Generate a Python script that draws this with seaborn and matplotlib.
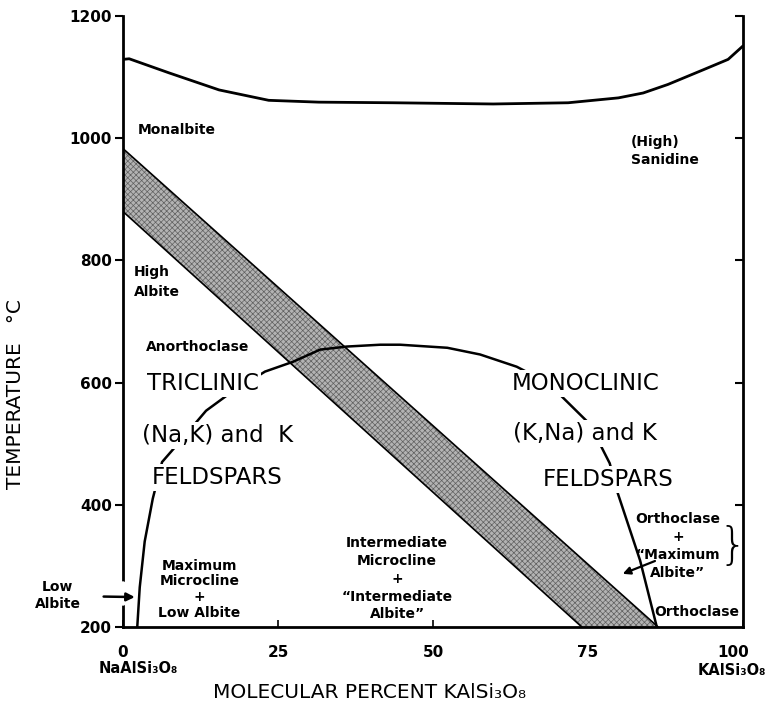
import matplotlib.pyplot as plt
import matplotlib.transforms as mtransforms
import seaborn as sns
import pandas as pd

# upper curve (melting region)
top_x = [0, 1, 7.4, 15.5, 23.5, 31.6, 43.6, 59.7, 71.8, 79.9, 83.9, 87.9, 93.6, 97.6, 100]
top_t = [1129, 1130, 1107, 1079, 1062, 1059, 1058, 1056, 1058, 1066, 1074, 1088, 1112, 1129, 1151]

# solvus dome
solvus_x = [2.3, 2.7, 3.5, 4.8, 6.3, 8.7, 13.4, 16.9, 22.9, 27.4, 31.8, 36.1, 41.5, 44.7,
            52.3, 57.6, 63.5, 67.5, 70.5, 75.0, 76.6, 78.5, 79.8, 83.4, 86.1]
solvus_t = [200, 265, 340, 410, 470, 498, 554, 580, 618, 634, 654, 659, 662, 662,
            657, 646, 626, 605, 580, 535, 506, 468, 419, 309, 200]

# shaded band (two straight edges)
band_hi_x = [0, 86.3]
band_hi_t = [983, 200]
band_lo_x = [0, 74.0]
band_lo_t = [880, 200]

x_ticks = [0, 25, 50, 75, 100]
y_ticks = [200, 400, 600, 800, 1000, 1200]
right_ticks = [400, 600, 800, 1000, 1200]

sns.set_theme(style='ticks')
plt.rcParams['font.family'] = ['DejaVu Sans']
plt.rcParams['hatch.linewidth'] = 0.5
for k in ['text.color', 'xtick.color', 'ytick.color', 'axes.labelcolor', 'axes.edgecolor']:
    plt.rcParams[k] = 'black'

fig = plt.figure(figsize=(7.69, 7.1), dpi=100)
ax = fig.add_axes([123 / 769, 1 - 627 / 710, 620 / 769, 611 / 710])

# band
ax.fill(band_hi_x + band_lo_x[::-1], band_hi_t + band_lo_t[::-1],
        facecolor='#b3b3b3', hatch='xxxxxx', edgecolor='#606060', linewidth=0, zorder=1)
for bx, bt in [(band_hi_x, band_hi_t), (band_lo_x, band_lo_t)]:
    sns.lineplot(x=bx, y=bt, ax=ax, color='black', lw=1.2, estimator=None, sort=False)

top = pd.DataFrame({'x': top_x, 't': top_t})
sns.lineplot(data=top, x='x', y='t', ax=ax, color='black', lw=2, estimator=None, sort=False)
sol = pd.DataFrame({'x': solvus_x, 't': solvus_t})
sns.lineplot(data=sol, x='x', y='t', ax=ax, color='black', lw=1.8, estimator=None, sort=False,
             zorder=2)

ax.set_xlim(0, 100)
ax.set_ylim(200, 1200)
ax.set_xticks(x_ticks)
ax.set_yticks(y_ticks)
ax.set_xlabel('')
ax.set_ylabel('')
ax.spines['top'].set_visible(False)
for s in ['left', 'right', 'bottom']:
    ax.spines[s].set_linewidth(2)
ax.tick_params(axis='y', direction='out', length=6, width=1.5, labelsize=11, pad=2)
ax.tick_params(axis='x', direction='in', length=5, width=1.2, labelsize=11, pad=13)
for lbl in ax.get_xticklabels() + ax.get_yticklabels():
    lbl.set_fontweight('bold')
last = ax.get_xticklabels()[-1]
last.set_transform(last.get_transform() + mtransforms.ScaledTranslation(-0.1, 0, fig.dpi_scale_trans))

twin = ax.twinx()
twin.set_ylim(200, 1200)
twin.set_yticks(right_ticks)
twin.tick_params(axis='y', direction='in', length=6, width=1.5, labelright=False)
for s in twin.spines.values():
    s.set_visible(False)

# gap in the left axis where the Low Albite arrow goes through
ax.plot([0, 0], [240, 271], color='white', lw=4, clip_on=False, zorder=3)

big = dict(fontsize=16.5, ha='left', va='center', zorder=5,
           bbox=dict(facecolor='white', edgecolor='none', pad=1.5))
ax.text(3.9, 599, 'TRICLINIC', **big)
ax.text(3.1, 514, '(Na,K) and  K', **big)
ax.text(4.7, 444, 'FELDSPARS', **big)
ax.text(62.7, 599, 'MONOCLINIC', **big)
ax.text(62.9, 517, '(K,Na) and K', **big)
ax.text(67.7, 441, 'FELDSPARS', **big)

small = dict(fontsize=10, fontweight='bold', va='center')
ax.text(2.3, 1013, 'Monalbite', ha='left', **small)
ax.text(81.9, 979, '(High)\nSanidine', ha='left', linespacing=1.3, **small)
ax.text(1.8, 765, 'High\nAlbite', ha='left', linespacing=1.5, **small)
ax.text(3.7, 658, 'Anorthoclase', ha='left', **small)
ax.text(12.3, 262, 'Maximum\nMicrocline\n+\nLow Albite', ha='center', linespacing=1.15, **small)
ax.text(44.2, 279, 'Intermediate\nMicrocline\n+\n\u201cIntermediate\nAlbite\u201d', ha='center',
        linespacing=1.35, **small)
ax.text(89.5, 333, 'Orthoclase\n+\n\u201cMaximum\nAlbite\u201d', ha='center', linespacing=1.35, **small)
ax.text(92.6, 225, 'Orthoclase', ha='center', **small)
ax.text(98.3, 331, '}', ha='center', va='center', fontsize=32, fontweight='light')

ax.annotate('Low\nAlbite', xy=(1.9, 249), xytext=(-10.5, 251), ha='center', va='center',
            fontsize=10, fontweight='bold', linespacing=1.3, annotation_clip=False, zorder=6,
            arrowprops=dict(arrowstyle='-|>', color='black', lw=1.8, mutation_scale=12,
                            shrinkA=14, shrinkB=0))
ax.annotate('', xy=(80.6, 287), xytext=(85.8, 308),
            arrowprops=dict(arrowstyle='-|>', color='black', lw=1.6, mutation_scale=11,
                            shrinkA=0, shrinkB=0))

trans = mtransforms.blended_transform_factory(ax.transData, ax.transAxes)
ax.text(2.4, -0.068, 'NaAlSi\u2083O\u2088', transform=trans, ha='center', va='center',
        fontsize=10.5, fontweight='bold')
ax.text(98.2, -0.071, 'KAlSi\u2083O\u2088', transform=trans, ha='center', va='center',
        fontsize=10.5, fontweight='bold')

fig.text(16 / 769, 1 - 394 / 710, 'TEMPERATURE   \u00b0C', rotation=90, ha='center', va='center',
         fontsize=14.5)
fig.text(370 / 769, 1 - 693 / 710, 'MOLECULAR PERCENT KAlSi\u2083O\u2088', ha='center', va='center',
         fontsize=14.5)

fig.savefig('out.png', dpi=100)
